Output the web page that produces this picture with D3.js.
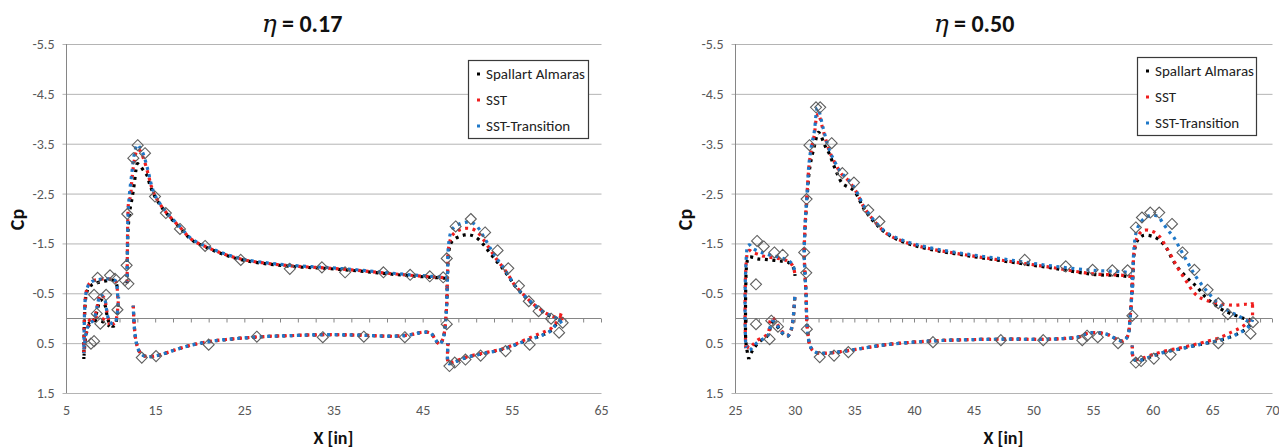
<!DOCTYPE html>
<html>
<head>
<meta charset="utf-8">
<script src="https://cdn.jsdelivr.net/npm/d3@7"></script>
<style>
  html, body { margin: 0; padding: 0; background: #fff; }
  svg { display: block; font-family: Carlito, 'Liberation Sans', Arial, sans-serif; }
</style>
</head>
<body>
<svg id="chart" width="1279" height="448"></svg>
<script>
// ---- shared ticks ----
const cpTicks = [-5.5, -4.5, -3.5, -2.5, -1.5, -0.5, 0.5, 1.5];
const x17Ticks = [5, 15, 25, 35, 45, 55, 65];
const x17Minor = [5, 7, 9, 11, 13, 15, 17, 19, 21, 23, 25, 27, 29, 31, 33, 35, 37, 39, 41, 43, 45, 47, 49, 51, 53, 55, 57, 59, 61, 63, 65];
const x50Ticks = [25, 30, 35, 40, 45, 50, 55, 60, 65, 70];
const x50Minor = [25, 26, 27, 28, 29, 30, 31, 32, 33, 34, 35, 36, 37, 38, 39, 40, 41, 42, 43, 44, 45, 46, 47,
  48, 49, 50, 51, 52, 53, 54, 55, 56, 57, 58, 59, 60, 61, 62, 63, 64, 65, 66, 67, 68, 69, 70];
const modelNames = ['Spallart Almaras', 'SST', 'SST-Transition'];

// ---- eta = 0.17 : [x (in), Cp] ----
const slatUp17 = [[7.0, 0.7], [7.02, 0.4], [7.05, 0.1], [7.1, -0.2], [7.2, -0.45], [7.4, -0.62], [7.7, -0.71], [8.2, -0.76],
  [8.8, -0.78], [9.5, -0.79], [10.2, -0.78], [10.55, -0.75], [10.7, -0.66], [10.78, -0.5], [10.82, -0.35]];
const slatUp17SA = [[7.0, 0.82], [7.02, 0.45], [7.06, 0.1], [7.12, -0.2], [7.25, -0.45], [7.5, -0.6], [7.9, -0.67], [8.5, -0.71],
  [9.2, -0.74], [9.9, -0.76], [10.4, -0.76], [10.65, -0.7], [10.78, -0.55]];
const slatLo17 = [[7.02, 0.62], [7.2, 0.36], [7.55, 0.13], [8.1, 0.03], [8.5, -0.24], [8.85, -0.47], [9.3, -0.4], [9.55, -0.17],
  [9.8, 0.03], [10.2, 0.11], [10.5, 0.09], [10.7, -0.04], [10.85, -0.3], [10.9, -0.43]];
const slatLo17SA = [[7.02, 0.75], [7.2, 0.4], [7.55, 0.15], [8.1, 0.05], [8.5, -0.15], [8.85, -0.37], [9.3, -0.3], [9.55, -0.1],
  [9.8, 0.07], [10.2, 0.16], [10.5, 0.14], [10.7, 0.0], [10.85, -0.28]];
const slatCove17SST = [[7.5, 0.06], [8.0, 0.0], [8.5, -0.02], [9.0, 0.0], [9.5, 0.06], [9.9, 0.12]];
const slatCove17SA = [[7.5, 0.11], [8.0, 0.06], [8.5, 0.04], [9.0, 0.06], [9.5, 0.11], [9.9, 0.16]];

const mainUp17Tr = [[11.85, -0.72], [11.87, -1.1], [11.9, -1.6], [11.95, -2.05], [12.1, -2.46], [12.37, -2.89], [12.66, -3.29],
  [13.0, -3.48], [13.3, -3.42], [13.67, -3.29], [14.2, -2.96], [14.6, -2.66], [15.0, -2.46], [16.1, -2.16], [17.8, -1.83],
  [19.1, -1.59], [21, -1.42], [23, -1.28], [25, -1.18], [28, -1.1], [31, -1.05], [34, -1.02], [37, -0.98], [40, -0.93],
  [43, -0.88], [46, -0.84], [47.75, -0.82]];
const mainUp17SST = [[11.85, -0.72], [11.87, -1.1], [11.9, -1.6], [11.95, -2.1], [12.05, -2.36], [12.2, -2.42], [12.4, -2.8],
  [12.7, -3.2], [13.0, -3.38], [13.3, -3.36], [13.7, -3.2], [14.2, -2.9], [14.6, -2.63], [15.0, -2.45], [16.1, -2.15],
  [17.8, -1.82], [19.1, -1.58], [21, -1.41], [23, -1.27], [25, -1.17], [28, -1.09], [31, -1.04], [34, -1.01], [37, -0.97],
  [40, -0.92], [43, -0.87], [46, -0.83], [47.75, -0.81]];
const mainUp17SA = [[11.85, -0.7], [11.87, -1.0], [11.9, -1.4], [11.97, -1.8], [12.15, -2.15], [12.4, -2.4], [12.66, -2.7],
  [12.85, -2.98], [13.0, -3.1], [13.3, -3.06], [13.7, -2.96], [14.1, -2.86], [14.4, -2.68], [15.0, -2.43], [16.1, -2.14],
  [17.8, -1.81], [19.1, -1.57], [21, -1.4], [23, -1.26], [25, -1.16], [28, -1.08], [31, -1.03], [34, -1.0], [37, -0.96],
  [40, -0.91], [43, -0.86], [46, -0.82], [47.75, -0.8]];
const mainLo17 = [[12.55, -0.25], [12.6, 0.0], [12.72, 0.28], [12.9, 0.5], [13.2, 0.66], [13.6, 0.74], [14.2, 0.77], [15.2, 0.75],
  [16.5, 0.68], [18.4, 0.57], [21, 0.47], [24, 0.41], [27, 0.37], [30, 0.35], [34, 0.33], [38, 0.34], [42, 0.36], [44, 0.32],
  [45, 0.28], [45.9, 0.3], [46.5, 0.45], [46.9, 0.52], [47.3, 0.4], [47.55, 0.1], [47.7, -0.3], [47.75, -0.62]];

const flapUp17Tr = [[47.75, -0.62], [47.8, -1.0], [47.85, -1.35], [47.95, -1.55], [48.15, -1.72], [48.5, -1.82], [49.0, -1.88],
  [49.7, -1.92], [50.3, -1.93], [51.0, -1.86], [51.8, -1.65], [52.7, -1.37], [53.3, -1.2], [54.0, -1.03], [54.7, -0.84],
  [55.3, -0.66], [56.0, -0.52], [56.6, -0.42], [57.3, -0.3], [58.1, -0.19], [58.8, -0.1], [59.45, -0.05], [60.0, 0.0],
  [60.4, 0.06], [60.6, 0.1]];
const flapUp17SST = [[47.75, -0.62], [47.8, -0.95], [47.85, -1.28], [47.95, -1.46], [48.15, -1.6], [48.5, -1.7], [49.0, -1.76],
  [49.7, -1.8], [50.3, -1.8], [51.0, -1.75], [51.8, -1.58], [52.7, -1.34], [53.3, -1.18], [54.0, -1.02], [54.7, -0.84],
  [55.3, -0.67], [56.0, -0.53], [56.6, -0.42], [57.3, -0.3], [58.1, -0.19], [58.8, -0.1], [59.45, -0.05], [60.0, -0.02],
  [60.4, -0.04], [60.55, -0.1], [60.62, 0.04], [60.6, 0.1]];
const flapUp17SA = [[47.75, -0.62], [47.8, -0.9], [47.85, -1.2], [47.95, -1.36], [48.15, -1.5], [48.5, -1.58], [49.0, -1.63],
  [49.7, -1.67], [50.3, -1.67], [51.0, -1.62], [51.8, -1.48], [52.5, -1.32], [53.3, -1.14], [54.0, -0.99], [54.7, -0.82],
  [55.3, -0.66], [56.0, -0.52], [56.6, -0.41], [57.3, -0.29], [58.1, -0.18], [58.8, -0.09], [59.45, -0.03], [60.0, 0.0],
  [60.5, 0.03]];
const flapLo17 = [[47.85, 0.5], [47.88, 0.91], [48.2, 0.9], [49.0, 0.85], [50.0, 0.78], [51.0, 0.74], [52.3, 0.69], [53.65, 0.64],
  [55.0, 0.56], [56.27, 0.47], [57.3, 0.41], [58.1, 0.36], [58.8, 0.31], [59.3, 0.26], [59.8, 0.16], [60.2, 0.08], [60.5, 0.02]];
const flapLo17SST = [[47.85, 0.5], [47.88, 0.9], [48.2, 0.89], [49.0, 0.84], [50.0, 0.77], [51.0, 0.73], [52.3, 0.68],
  [53.65, 0.63], [55.0, 0.55], [56.27, 0.45], [57.3, 0.37], [58.1, 0.31], [58.8, 0.26], [59.3, 0.22], [59.8, 0.13],
  [60.2, 0.04], [60.5, -0.04]];

const exp17 = [[7.8, 0.51], [8.15, 0.46], [8.15, -0.47], [8.45, -0.09], [8.55, -0.81], [8.85, 0.11], [9.5, -0.47], [9.94, -0.86],
  [10.5, -0.79], [10.77, -0.17], [11.6, -0.76], [11.8, -1.06], [12.0, -0.69],
  [11.87, -2.09], [12.55, -3.21], [13.04, -3.47], [13.86, -3.31], [14.98, -2.44], [16.2, -2.11], [17.78, -1.79],
  [20.6, -1.45], [24.6, -1.17], [30.1, -0.99], [33.7, -1.02], [36.3, -0.92], [40.6, -0.92], [43.6, -0.87], [45.8, -0.84],
  [47.3, -0.82],
  [13.5, 0.79], [15.1, 0.76], [21.0, 0.53], [26.4, 0.37], [33.8, 0.38], [38.4, 0.37], [43.0, 0.38], [47.7, 0.12],
  [47.7, -1.2], [48.7, -1.84], [50.4, -1.99], [52.0, -1.72], [53.4, -1.36], [54.6, -1.0], [55.8, -0.65], [56.9, -0.34],
  [58.0, -0.14], [59.4, 0.01], [60.7, 0.09],
  [48.0, 0.96], [48.6, 0.89], [49.8, 0.83], [51.5, 0.75], [54.3, 0.66], [57.0, 0.53], [60.3, 0.29]];

// ---- eta = 0.50 : [x (in), Cp] ----
const slatUp50Tr = [[25.9, 0.6], [25.85, 0.1], [25.85, -0.5], [25.9, -1.0], [25.97, -1.3], [26.05, -1.45], [26.2, -1.47],
  [26.48, -1.4], [27.0, -1.34], [27.47, -1.3], [28.0, -1.26], [28.6, -1.23], [29.0, -1.2], [29.46, -1.16], [29.75, -1.1],
  [29.9, -1.04], [30.03, -0.87]];
const slatUp50SST = [[25.9, 0.6], [25.85, 0.1], [25.85, -0.5], [25.9, -0.95], [25.97, -1.2], [26.05, -1.32], [26.2, -1.36],
  [26.48, -1.32], [27.0, -1.28], [27.47, -1.24], [28.0, -1.22], [28.6, -1.2], [29.0, -1.18], [29.46, -1.14], [29.75, -1.08],
  [29.9, -1.02], [30.03, -0.87]];
const slatUp50SA = [[26.15, 0.82], [25.92, 0.5], [25.88, 0.0], [25.9, -0.6], [25.95, -1.0], [26.05, -1.17], [26.2, -1.23],
  [26.5, -1.22], [26.9, -1.19], [27.5, -1.18], [28.3, -1.16], [29.0, -1.14], [29.46, -1.12], [29.8, -1.05], [29.95, -0.98],
  [30.03, -0.85]];
const slatLo50Tr = [[26.0, 0.55], [26.2, 0.64], [26.5, 0.58], [26.9, 0.48], [27.47, 0.4], [27.8, 0.33], [28.0, 0.12],
  [28.15, 0.06], [28.4, 0.1], [28.7, 0.2], [29.0, 0.3], [29.35, 0.36], [29.6, 0.3], [29.8, 0.12], [29.95, -0.2], [30.02, -0.5]];
const slatLo50SST = [[26.0, 0.55], [26.2, 0.6], [26.5, 0.53], [26.9, 0.44], [27.47, 0.37], [27.8, 0.28], [27.95, 0.05],
  [28.15, -0.01], [28.4, 0.06], [28.7, 0.18], [29.0, 0.28], [29.35, 0.35], [29.6, 0.3], [29.8, 0.12], [29.95, -0.2], [30.02, -0.5]];
const slatLo50SA = [[26.15, 0.82], [26.3, 0.72], [26.6, 0.6], [27.0, 0.48], [27.47, 0.4], [27.8, 0.33], [28.0, 0.14],
  [28.15, 0.08], [28.4, 0.12], [28.7, 0.22], [29.0, 0.31], [29.35, 0.37], [29.6, 0.31], [29.8, 0.14], [29.95, -0.2], [30.02, -0.5]];

const mainUp50Tr = [[31.0, 0.0], [30.95, -0.5], [30.85, -0.95], [30.8, -1.3], [30.85, -1.75], [30.93, -2.1], [31.05, -2.55],
  [31.2, -3.1], [31.4, -3.45], [31.65, -3.75], [31.8, -4.1], [31.9, -4.22], [32.05, -4.15], [32.35, -3.85], [32.9, -3.38],
  [33.4, -3.12], [33.9, -2.92], [34.5, -2.78], [35.1, -2.58], [35.8, -2.25], [36.7, -1.95], [37.7, -1.72], [39.1, -1.56],
  [41.2, -1.42], [44.6, -1.28], [48, -1.17], [51.5, -1.05], [55, -0.96], [57.5, -0.93], [58.25, -0.9]];
const mainUp50SST = [[31.0, 0.0], [30.95, -0.5], [30.85, -0.95], [30.8, -1.3], [30.85, -1.75], [30.93, -2.1], [31.05, -2.55],
  [31.2, -3.05], [31.4, -3.4], [31.65, -3.68], [31.8, -3.98], [31.95, -4.1], [32.1, -4.03], [32.35, -3.8], [32.9, -3.36],
  [33.4, -3.1], [33.9, -2.9], [34.5, -2.76], [35.1, -2.56], [35.8, -2.23], [36.7, -1.94], [37.7, -1.7], [39.1, -1.54],
  [41.2, -1.4], [44.6, -1.26], [48, -1.14], [51.5, -1.02], [55, -0.89], [57.5, -0.86], [58.25, -0.83]];
const mainUp50SA = [[31.0, 0.0], [30.95, -0.5], [30.85, -0.95], [30.8, -1.3], [30.85, -1.7], [30.93, -2.05], [31.05, -2.45],
  [31.2, -2.9], [31.4, -3.2], [31.65, -3.45], [31.85, -3.65], [32.0, -3.73], [32.2, -3.66], [32.5, -3.48], [32.9, -3.3],
  [33.3, -3.05], [33.6, -2.88], [34.0, -2.7], [34.5, -2.63], [35.0, -2.55], [35.8, -2.2], [36.7, -1.92], [37.7, -1.7],
  [39.1, -1.53], [41.2, -1.39], [44.6, -1.25], [48, -1.13], [51.5, -1.01], [55, -0.88], [57.5, -0.85], [58.25, -0.82]];
const mainLo50 = [[31.0, 0.0], [31.1, 0.3], [31.25, 0.52], [31.5, 0.64], [32.0, 0.7], [33.2, 0.69], [35, 0.63], [37.7, 0.53],
  [41.2, 0.46], [44.6, 0.43], [48, 0.42], [51.5, 0.42], [53.9, 0.37], [54.6, 0.3], [56.0, 0.31], [57.0, 0.42], [57.5, 0.46],
  [57.9, 0.36], [58.1, 0.02], [58.25, -0.5], [58.3, -0.84]];

const flapUp50Tr = [[58.3, -0.5], [58.35, -1.0], [58.45, -1.45], [58.65, -1.75], [59.0, -1.93], [59.5, -2.03], [60.0, -2.07],
  [60.5, -2.03], [60.8, -1.93], [61.3, -1.76], [61.75, -1.63], [62.3, -1.39], [63.0, -1.09], [63.55, -0.86], [64.25, -0.63],
  [64.95, -0.43], [65.65, -0.26], [66.5, -0.13], [67.3, -0.03], [67.8, 0.04], [68.2, 0.08]];
const flapUp50SST = [[58.3, -0.5], [58.35, -0.95], [58.45, -1.35], [58.7, -1.62], [59.2, -1.76], [60.0, -1.74], [60.6, -1.63],
  [61.05, -1.46], [61.6, -1.23], [62.15, -0.99], [62.85, -0.73], [63.4, -0.53], [63.85, -0.43], [64.5, -0.36], [65.6, -0.29],
  [66.8, -0.26], [67.8, -0.28], [68.3, -0.27], [68.35, -0.34], [68.37, -0.05]];
const flapUp50SA = [[58.3, -0.5], [58.35, -0.9], [58.45, -1.3], [58.7, -1.55], [59.2, -1.66], [60.0, -1.64], [60.6, -1.56],
  [61.2, -1.39], [61.7, -1.16], [62.3, -0.96], [63.1, -0.76], [63.7, -0.63], [64.4, -0.43], [65.1, -0.29], [65.9, -0.16],
  [66.8, -0.07], [67.6, 0.0], [68.2, 0.03]];
const flapLo50 = [[58.3, 0.55], [58.4, 0.82], [58.8, 0.85], [59.3, 0.82], [60, 0.76], [61, 0.68], [62.2, 0.62], [63.3, 0.56],
  [64.3, 0.51], [65.5, 0.45], [66.6, 0.37], [67.3, 0.29], [67.8, 0.22], [68.2, 0.12], [68.35, 0.03]];
const flapLo50SST = [[58.3, 0.55], [58.4, 0.8], [58.8, 0.83], [59.3, 0.79], [60, 0.73], [61, 0.66], [62.2, 0.6], [63.3, 0.54],
  [64.3, 0.48], [65.5, 0.4], [66.6, 0.28], [67.3, 0.2], [67.8, 0.12], [68.2, 0.02], [68.35, -0.05]];

const exp50 = [[26.85, -1.55], [27.41, -1.44], [28.3, -1.32], [29.0, -1.27], [26.76, -0.68], [26.76, 0.12], [28.04, 0.05],
  [28.6, 0.17], [27.9, 0.42],
  [30.8, -1.32], [30.97, -0.91], [31.0, -2.39], [31.24, -3.47], [31.79, -4.23], [32.14, -4.23], [33.1, -3.51], [34.0, -2.91],
  [34.97, -2.72], [36.17, -2.17], [37.1, -1.94], [49.28, -1.17], [52.72, -1.04], [54.97, -0.97], [56.62, -0.96], [57.9, -0.96],
  [31.02, 0.22], [32.1, 0.78], [33.3, 0.75], [34.5, 0.68], [41.59, 0.48], [47.28, 0.44], [50.83, 0.44], [54.1, 0.44],
  [54.5, 0.35], [55.4, 0.38], [57.1, 0.5], [58.3, -0.05],
  [58.59, -1.82], [59.1, -2.02], [59.8, -2.12], [60.55, -2.12], [61.62, -1.89], [62.5, -1.32], [63.5, -0.97], [64.6, -0.57],
  [65.5, -0.3], [66.3, -0.08], [68.4, 0.08],
  [58.59, 0.89], [59.03, 0.86], [60.1, 0.81], [61.5, 0.73], [65.5, 0.5], [68.2, 0.31]];

// ---- styling ----
const COLORS = { sa: '#000000', sst: '#f01e1e', tr: '#1f78c8', grid: '#b4b4b4', axis: '#868686', text: '#595959', exp: '#5f5f5f' };
const FONT = "Carlito, 'Liberation Sans', Arial, sans-serif";
const modelStyle = {
  sa: { color: COLORS.sa, offset: 1.0 },
  sst: { color: COLORS.sst, offset: 0 },
  tr: { color: COLORS.tr, offset: 1.8 },
};

const panels = [
  {
    title: '0.17', xDomain: [5, 65], xTicks: x17Ticks, xMinor: x17Minor,
    box: { left: 66, right: 601, top: 44, bottom: 393 }, titleX: 302, cpX: 17,
    legend: { x: 468, y: 60, w: 120, h: 78 },
    exp: exp17,
    series: [
      ['sa', slatUp17SA], ['sa', slatLo17SA], ['sa', slatCove17SA], ['sa', mainUp17SA], ['sa', mainLo17], ['sa', flapUp17SA], ['sa', flapLo17],
      ['sst', slatUp17], ['sst', slatLo17], ['sst', slatCove17SST], ['sst', mainUp17SST], ['sst', mainLo17], ['sst', flapUp17SST], ['sst', flapLo17SST],
      ['tr', slatUp17], ['tr', slatLo17], ['tr', mainUp17Tr], ['tr', mainLo17], ['tr', flapUp17Tr], ['tr', flapLo17],
    ],
  },
  {
    title: '0.50', xDomain: [25, 70], xTicks: x50Ticks, xMinor: x50Minor,
    box: { left: 735, right: 1272, top: 44, bottom: 393 }, titleX: 974, cpX: 685,
    legend: { x: 1137, y: 57, w: 119, h: 78 },
    exp: exp50,
    series: [
      ['sa', slatUp50SA], ['sa', slatLo50SA], ['sa', mainUp50SA], ['sa', mainLo50], ['sa', flapUp50SA], ['sa', flapLo50],
      ['sst', slatUp50SST], ['sst', slatLo50SST], ['sst', mainUp50SST], ['sst', mainLo50], ['sst', flapUp50SST], ['sst', flapLo50SST],
      ['tr', slatUp50Tr], ['tr', slatLo50Tr], ['tr', mainUp50Tr], ['tr', mainLo50], ['tr', flapUp50Tr], ['tr', flapLo50],
    ],
  },
];

const svg = d3.select('#chart');
panels.forEach((p) => drawPanel(svg, p));

function drawPanel(svg, p) {
  const { left, right, top, bottom } = p.box;
  const x = d3.scaleLinear().domain(p.xDomain).range([left, right]);
  const y = d3.scaleLinear().domain([-5.5, 1.5]).range([top, bottom]);
  const g = svg.append('g');

  // Gridlines + y labels
  g.append('g').attr('transform', `translate(${left + 0.5},0)`)
    .call(d3.axisLeft(y).tickValues(cpTicks).tickSize(-(right - left)).tickPadding(12)
      .tickFormat((d) => d.toFixed(1)))
    .call((sel) => sel.select('.domain').remove())
    .call((sel) => sel.selectAll('.tick line').attr('x1', -4).attr('stroke', COLORS.grid))
    .call((sel) => sel.selectAll('.tick text').attr('fill', COLORS.text)
      .style('font-size', '14px').style('font-family', FONT));

  // Vertical axis line
  g.append('line').attr('x1', left + 0.5).attr('x2', left + 0.5).attr('y1', top).attr('y2', bottom)
    .attr('stroke', COLORS.axis);

  // Horizontal axis crossing at Cp = 0 with minor ticks
  g.append('g').attr('transform', `translate(0,${Math.round(y(0)) + 0.5})`)
    .call(d3.axisBottom(x).tickValues(p.xMinor).tickSize(4).tickFormat(''))
    .call((sel) => sel.select('.domain').attr('stroke', COLORS.axis).attr('d', `M${left},0H${right}`))
    .call((sel) => sel.selectAll('.tick line').attr('stroke', COLORS.axis));

  // X labels at the bottom
  g.append('g').attr('transform', `translate(0,${bottom})`)
    .call(d3.axisBottom(x).tickValues(p.xTicks).tickSize(0).tickPadding(12))
    .call((sel) => sel.select('.domain').remove())
    .call((sel) => sel.selectAll('.tick text').attr('fill', COLORS.text)
      .style('font-size', '14px').style('font-family', FONT));

  // CFD series as dotted traces
  const line = d3.line().x((d) => x(d[0])).y((d) => y(d[1])).curve(d3.curveCatmullRom.alpha(0.5));
  g.append('g').selectAll('path').data(p.series).join('path')
    .attr('fill', 'none')
    .attr('stroke', (d) => modelStyle[d[0]].color)
    .attr('stroke-width', 3.2)
    .attr('stroke-dasharray', '3,4.5')
    .attr('stroke-dashoffset', (d) => modelStyle[d[0]].offset)
    .attr('d', (d) => line(d[1]));

  // Experiment: hollow diamonds
  g.append('g').selectAll('path').data(p.exp).join('path')
    .attr('transform', (d) => `translate(${x(d[0])},${y(d[1])})`)
    .attr('d', 'M0,-5.5L5.5,0L0,5.5L-5.5,0Z')
    .attr('fill', 'none')
    .attr('stroke', COLORS.exp)
    .attr('stroke-width', 1.1);

  // Title
  const title = g.append('text').attr('x', p.titleX).attr('y', 32).attr('text-anchor', 'middle')
    .attr('fill', '#111');
  title.append('tspan').text('η').style('font-family', "'DejaVu Serif', serif").style('font-style', 'italic')
    .style('font-size', '25px');
  title.append('tspan').text(` = ${p.title}`).style('font-weight', 'bold').style('font-size', '24px');

  // Axis titles
  g.append('text').attr('transform', `translate(${p.cpX + 7},${(top + bottom) / 2 + 1}) rotate(-90)`)
    .attr('text-anchor', 'middle').attr('fill', '#111')
    .style('font-weight', 'bold').style('font-size', '20px').text('Cp');
  g.append('text').attr('x', (left + right) / 2).attr('y', 444).attr('text-anchor', 'middle')
    .attr('fill', '#111').style('font-weight', 'bold').style('font-size', '18px').text('X [in]');

  // Legend
  const L = p.legend;
  const lg = g.append('g').attr('transform', `translate(${L.x},${L.y})`);
  lg.append('rect').attr('x', 0.5).attr('y', 0.5).attr('width', L.w).attr('height', L.h)
    .attr('fill', '#fff').attr('stroke', '#3a3a3a').attr('stroke-width', 1.2);
  ['sa', 'sst', 'tr'].forEach((k, i) => {
    const cy = 14 + i * 26;
    lg.append('rect').attr('x', 9).attr('y', cy - 1.5).attr('width', 3).attr('height', 3)
      .attr('fill', modelStyle[k].color);
    lg.append('text').attr('x', 18).attr('y', cy + 5).attr('fill', '#222')
      .style('font-size', '15px').text(modelNames[i]);
  });
}
</script>
</body>
</html>
